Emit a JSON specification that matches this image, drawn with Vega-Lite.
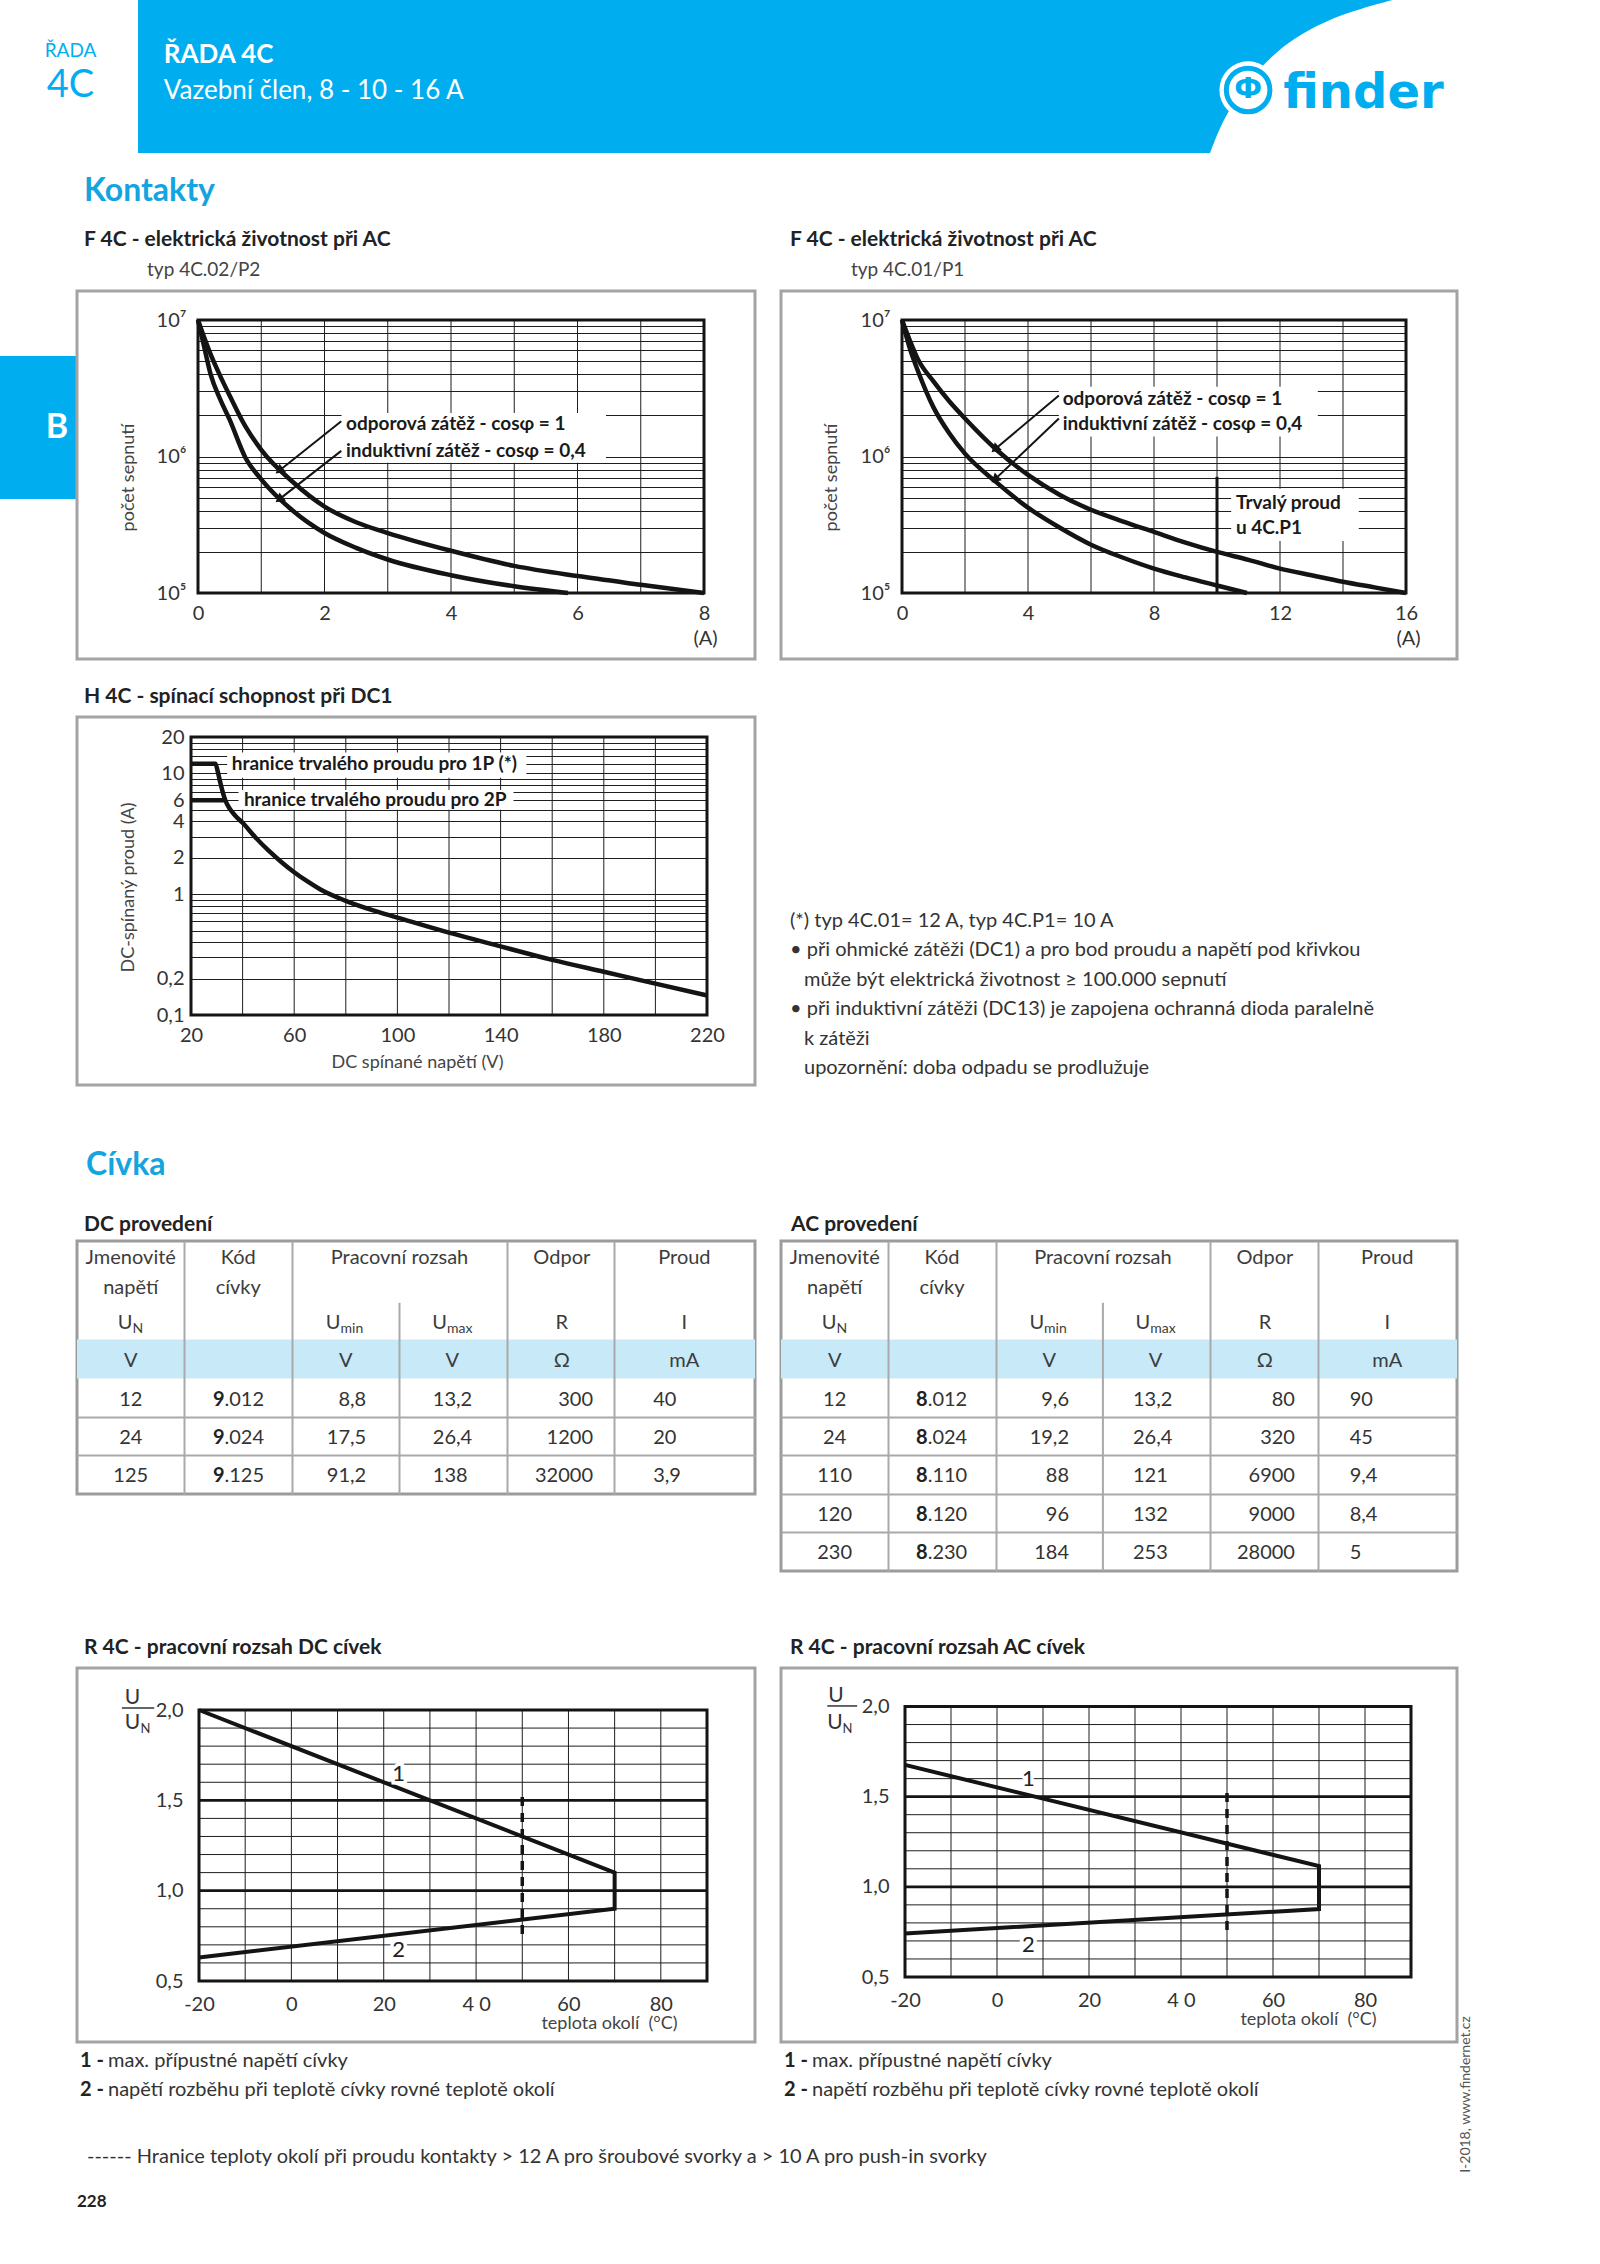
{
"$schema": "https://vega.github.io/schema/vega-lite/v6.json",
"padding": 0,
"background": "white",
"spacing": 0,
"bounds": "flush",
"columns": 5,
"align": "each",
"config": {
  "view": {"stroke": null},
  "font": "Lato",
  "text": {"font": "Lato", "color": "#333"},
  "title": {"font": "Lato", "subtitleFont": "Lato", "anchor": "start", "frame": "group", "color": "#222"},
  "axis": {"labelFont": "Lato", "labelFontSize": 20, "labelColor": "#333", "titleFont": "Lato", "titleFontSize": 18, "titleFontWeight": "normal", "titleColor": "#444", "ticks": false, "domain": false, "gridColor": "#1e1e1e", "gridWidth": 1, "gridOpacity": 1, "labelOverlap": false, "labelFlush": false},
  "concat": {"spacing": 0}
},
"datasets": {
  "headerCurve": [{"u":0.9043,"v":0},{"u":0.8547,"v":0.06},{"u":0.8162,"v":0.118},{"u":0.7722,"v":0.215},{"u":0.7337,"v":0.33},{"u":0.688,"v":0.54},{"u":0.6657,"v":0.70},{"u":0.6494,"v":0.83},{"u":0.6346,"v":1}],
  "c1": [
    {"s":"odporová","a":0,"n":10000000},{"s":"odporová","a":0.1,"n":7400000},{"s":"odporová","a":0.2,"n":5600000},{"s":"odporová","a":0.35,"n":3900000},{"s":"odporová","a":0.5,"n":2800000},{"s":"odporová","a":0.75,"n":1660000},{"s":"odporová","a":1,"n":1120000},{"s":"odporová","a":1.5,"n":650000},{"s":"odporová","a":2,"n":430000},{"s":"odporová","a":2.5,"n":330000},{"s":"odporová","a":3,"n":275000},{"s":"odporová","a":4,"n":204000},{"s":"odporová","a":5,"n":158000},{"s":"odporová","a":6,"n":133000},{"s":"odporová","a":7,"n":115000},{"s":"odporová","a":8,"n":100000},
    {"s":"induktivní","a":0,"n":10000000},{"s":"induktivní","a":0.1,"n":6300000},{"s":"induktivní","a":0.2,"n":4000000},{"s":"induktivní","a":0.35,"n":2630000},{"s":"induktivní","a":0.5,"n":1860000},{"s":"induktivní","a":0.75,"n":980000},{"s":"induktivní","a":1,"n":680000},{"s":"induktivní","a":1.5,"n":400000},{"s":"induktivní","a":2,"n":275000},{"s":"induktivní","a":2.5,"n":214000},{"s":"induktivní","a":3,"n":176000},{"s":"induktivní","a":4,"n":135000},{"s":"induktivní","a":5,"n":112000},{"s":"induktivní","a":5.85,"n":100000}
  ],
  "c1grid": [{"g":1},{"g":2},{"g":3},{"g":4},{"g":5},{"g":6},{"g":7}],
  "c1box": [{"x1":2.27,"x2":6.45,"y1":900000,"y2":2080000}],
  "c1text": [{"x":2.34,"y":1720000,"t":"odporová zátěž - cosφ = 1"},{"x":2.34,"y":1100000,"t":"induktivní zátěž - cosφ = 0,4"}],
  "c1arrow": [{"x1":2.265,"y1":1810000,"x2":1.283,"y2":786000},{"x1":2.265,"y1":1100000,"x2":1.283,"y2":485000}],
  "c2": [
    {"s":"odporová","a":0,"n":10000000},{"s":"odporová","a":0.25,"n":7080000},{"s":"odporová","a":0.5,"n":5190000},{"s":"odporová","a":1,"n":3550000},{"s":"odporová","a":1.5,"n":2540000},{"s":"odporová","a":2,"n":1900000},{"s":"odporová","a":3,"n":1120000},{"s":"odporová","a":4,"n":733000},{"s":"odporová","a":5,"n":525000},{"s":"odporová","a":6,"n":407000},{"s":"odporová","a":7,"n":335000},{"s":"odporová","a":8,"n":280000},{"s":"odporová","a":9,"n":234000},{"s":"odporová","a":10,"n":200000},{"s":"odporová","a":11,"n":175000},{"s":"odporová","a":12,"n":151000},{"s":"odporová","a":13,"n":135000},{"s":"odporová","a":14,"n":121000},{"s":"odporová","a":15,"n":110000},{"s":"odporová","a":16,"n":100000},
    {"s":"induktivní","a":0,"n":10000000},{"s":"induktivní","a":0.25,"n":6170000},{"s":"induktivní","a":0.5,"n":4270000},{"s":"induktivní","a":1,"n":2290000},{"s":"induktivní","a":1.5,"n":1480000},{"s":"induktivní","a":2,"n":1050000},{"s":"induktivní","a":3,"n":646000},{"s":"induktivní","a":4,"n":422000},{"s":"induktivní","a":5,"n":302000},{"s":"induktivní","a":6,"n":226000},{"s":"induktivní","a":7,"n":182000},{"s":"induktivní","a":8,"n":151000},{"s":"induktivní","a":9,"n":130000},{"s":"induktivní","a":10,"n":113500},{"s":"induktivní","a":10.95,"n":100000}
  ],
  "c2grid": [{"g":2},{"g":4},{"g":6},{"g":8},{"g":10},{"g":12},{"g":14}],
  "c2box": [{"x1":4.98,"x2":13.2,"y1":1400000,"y2":3250000},{"x1":10.45,"x2":14.5,"y1":240000,"y2":580000}],
  "c2text": [{"x":5.1,"y":2660000,"t":"odporová zátěž - cosφ = 1"},{"x":5.1,"y":1740000,"t":"induktivní zátěž - cosφ = 0,4"},{"x":10.6,"y":460000,"t":"Trvalý proud"},{"x":10.6,"y":300000,"t":"u 4C.P1"}],
  "c2arrow": [{"x1":4.98,"y1":2800000,"x2":2.95,"y2":1130000},{"x1":4.98,"y1":1900000,"x2":2.95,"y2":680000}],
  "h": [
    {"s":"1P","v":20,"a":12},{"s":"1P","v":29.5,"a":12},{"s":"1P","v":30.3,"a":10.5},{"s":"1P","v":31.3,"a":8.5},{"s":"1P","v":32.3,"a":7.0},{"s":"1P","v":33.3,"a":6.0},{"s":"1P","v":35,"a":5.1},{"s":"1P","v":37,"a":4.5},{"s":"1P","v":40,"a":3.9},{"s":"1P","v":45,"a":2.95},{"s":"1P","v":50,"a":2.3},{"s":"1P","v":55,"a":1.85},{"s":"1P","v":60,"a":1.52},{"s":"1P","v":65,"a":1.28},{"s":"1P","v":70,"a":1.1},{"s":"1P","v":80,"a":0.88},{"s":"1P","v":90,"a":0.74},{"s":"1P","v":100,"a":0.64},{"s":"1P","v":120,"a":0.48},{"s":"1P","v":140,"a":0.37},{"s":"1P","v":160,"a":0.286},{"s":"1P","v":180,"a":0.228},{"s":"1P","v":200,"a":0.182},{"s":"1P","v":220,"a":0.145},
    {"s":"2P","v":20,"a":6},{"s":"2P","v":33.3,"a":6}
  ],
  "hgrid": [{"g":40},{"g":60},{"g":80},{"g":100},{"g":120},{"g":140},{"g":160},{"g":180},{"g":200}],
  "hbox": [{"x1":34,"x2":150,"y1":9.2,"y2":14.9},{"x1":38.4,"x2":145,"y1":5.0,"y2":7.3}],
  "htext": [{"x":35.8,"y":12,"t":"hranice trvalého proudu pro 1P (*)"},{"x":40.5,"y":6,"t":"hranice trvalého proudu pro 2P"}],
  "notes": [
    {"l":0,"k":"first","t":"(*) typ 4C.01= 12 A, typ 4C.P1= 10 A"},
    {"l":1,"k":"bullet","t":"• při ohmické zátěži (DC1) a pro bod proudu a napětí pod křivkou"},
    {"l":2,"k":"cont","t":"může být elektrická životnost ≥ 100.000 sepnutí"},
    {"l":3,"k":"bullet","t":"• při induktivní zátěži (DC13) je zapojena ochranná dioda paralelně"},
    {"l":4,"k":"cont","t":"k zátěži"},
    {"l":5,"k":"cont","t":"upozornění: doba odpadu se prodlužuje"}
  ],
  "thead": [
    {"t":"Jmenovité","c":0.5,"r":-2.677},{"t":"napětí","c":0.5,"r":-1.914},
    {"t":"Kód","c":1.5,"r":-2.677},{"t":"cívky","c":1.5,"r":-1.914},
    {"t":"Pracovní rozsah","c":3.0,"r":-2.677},
    {"t":"Odpor","c":4.51,"r":-2.677},{"t":"R","c":4.51,"r":-1.0},
    {"t":"Proud","c":5.65,"r":-2.677},{"t":"I","c":5.65,"r":-1.0},
    {"t":"V","c":0.5,"r":0},{"t":"V","c":2.5,"r":0},{"t":"V","c":3.49,"r":0},{"t":"Ω","c":4.51,"r":0},{"t":"mA","c":5.65,"r":0}
  ],
  "usub": [{"c":0.517,"s":"N"},{"c":2.452,"s":"min"},{"c":3.442,"s":"max"}],
  "dc": [
    {"i":1,"UN":"12","kb":"9","kr":".012","umin":"8,8","umax":"13,2","R":"300","I":"40"},
    {"i":2,"UN":"24","kb":"9","kr":".024","umin":"17,5","umax":"26,4","R":"1200","I":"20"},
    {"i":3,"UN":"125","kb":"9","kr":".125","umin":"91,2","umax":"138","R":"32000","I":"3,9"}
  ],
  "ac": [
    {"i":1,"UN":"12","kb":"8","kr":".012","umin":"9,6","umax":"13,2","R":"80","I":"90"},
    {"i":2,"UN":"24","kb":"8","kr":".024","umin":"19,2","umax":"26,4","R":"320","I":"45"},
    {"i":3,"UN":"110","kb":"8","kr":".110","umin":"88","umax":"121","R":"6900","I":"9,4"},
    {"i":4,"UN":"120","kb":"8","kr":".120","umin":"96","umax":"132","R":"9000","I":"8,4"},
    {"i":5,"UN":"230","kb":"8","kr":".230","umin":"184","umax":"253","R":"28000","I":"5"}
  ],
  "rgrid": [{"g":-10},{"g":0},{"g":10},{"g":20},{"g":30},{"g":40},{"g":50},{"g":60},{"g":70},{"g":80}],
  "rygrid": [{"g":0.6},{"g":0.7},{"g":0.8},{"g":0.9},{"g":1.1},{"g":1.2},{"g":1.3},{"g":1.4},{"g":1.6},{"g":1.7},{"g":1.8},{"g":1.9}],
  "rdc": [{"t":-20,"u":2.0,"o":0},{"t":70,"u":1.1,"o":1},{"t":70,"u":0.9,"o":2},{"t":-20,"u":0.63,"o":3}],
  "rac": [{"t":-20,"u":1.676,"o":0},{"t":70,"u":1.115,"o":1},{"t":70,"u":0.877,"o":2},{"t":-20,"u":0.741,"o":3}],
  "rdcnum": [{"t":23.2,"u":1.644,"k":"1"},{"t":23.2,"u":0.67,"k":"2"}],
  "racnum": [{"t":6.8,"u":1.60,"k":"1"},{"t":6.8,"u":0.675,"k":"2"}],
  "legend": [{"i":0,"n":"1 -","t":"max. přípustné napětí cívky"},{"i":1,"n":"2 -","t":"napětí rozběhu při teplotě cívky rovné teplotě okolí"}],
  "footer": [{"i":0,"t":"------ Hranice teploty okolí při proudu kontakty > 12 A pro šroubové svorky a > 10 A pro push-in svorky"},{"i":1,"t":"228"}]
},
"concat": [
  {"width": 77, "height": 153, "data": {"values": [{}]}, "layer": [
    {"mark": {"type": "text", "text": "ŘADA", "fontSize": 19, "color": "#00aeef", "align": "center", "baseline": "middle", "dx": 32, "dy": -26}},
    {"mark": {"type": "text", "text": "4C", "fontSize": 38, "color": "#00aeef", "align": "center", "baseline": "middle", "dx": 32, "dy": 9}}
  ]},
  {"width": 678, "height": 153, "data": {"values": [{}]},
   "encoding": {"x": {"datum": 0, "type": "quantitative", "scale": {"domain": [0, 1], "nice": false, "zero": false}, "axis": null}},
   "layer": [
    {"mark": {"type": "rect", "color": "#00aeef"}, "encoding": {"x": {"datum": 0.09}, "x2": {"datum": 1}}},
    {"mark": {"type": "text", "text": "ŘADA 4C", "fontSize": 26, "fontWeight": "bold", "color": "white", "align": "left", "baseline": "middle", "dy": -22}, "encoding": {"x": {"datum": 0.128}}},
    {"mark": {"type": "text", "text": "Vazební člen, 8 - 10 - 16 A", "fontSize": 26, "color": "white", "align": "left", "baseline": "middle", "dy": 14}, "encoding": {"x": {"datum": 0.128}}}
  ]},
  {"width": 26, "height": 153, "view": {"fill": "#00aeef", "stroke": null}, "data": {"values": []}, "mark": "rect"},
  {"width": 676, "height": 153, "layer": [
    {"data": {"name": "headerCurve"}, "mark": {"type": "area", "orient": "horizontal", "color": "#00aeef", "interpolate": "basis"},
     "encoding": {
       "y": {"field": "v", "type": "quantitative", "scale": {"domain": [0, 1], "reverse": true, "nice": false, "zero": false}, "axis": null},
       "x": {"field": "u", "type": "quantitative", "scale": {"domain": [0, 1], "nice": false, "zero": false}, "axis": null},
       "x2": {"datum": 0}}},
    {"data": {"values": [{}]}, "mark": {"type": "point", "shape": "circle", "filled": true, "color": "white", "opacity": 1, "size": 3300}, "encoding": {"x": {"datum": 0.691}, "y": {"datum": 0.588}}},
    {"data": {"values": [{}]}, "mark": {"type": "point", "shape": "circle", "filled": false, "color": "#00aeef", "strokeWidth": 5, "opacity": 1, "size": 1900}, "encoding": {"x": {"datum": 0.691}, "y": {"datum": 0.588}}},
    {"data": {"values": [{}]}, "mark": {"type": "text", "text": "Ф", "font": "DejaVu Sans", "fontSize": 28, "fontWeight": "bold", "color": "#00aeef", "align": "center", "baseline": "middle"}, "encoding": {"x": {"datum": 0.691}, "y": {"datum": 0.588}}},
    {"data": {"values": [{}]}, "mark": {"type": "text", "text": "finder", "font": "DejaVu Sans", "fontSize": 48, "fontWeight": "bold", "color": "#00aeef", "align": "left", "baseline": "alphabetic"}, "encoding": {"x": {"datum": 0.743}, "y": {"datum": 0.706}}}
  ]},
  {"width": 143, "height": 1, "data": {"values": []}, "mark": "rect"},

  {"width": 77, "height": 138, "data": {"values": []}, "mark": "rect"},
  {"width": 678, "height": 138, "data": {"values": []}, "mark": "rect",
   "title": {"text": "Kontakty", "fontSize": 32, "fontWeight": "bold", "color": "#14a4df", "offset": -55, "dx": 7}},
  {"width": 26, "height": 1, "data": {"values": []}, "mark": "rect"},
  {"width": 676, "height": 1, "data": {"values": []}, "mark": "rect"},
  {"width": 143, "height": 1, "data": {"values": []}, "mark": "rect"},

  {"width": 77, "height": 368, "data": {"values": [{}]},
   "encoding": {
     "x": {"datum": 0, "type": "quantitative", "scale": {"domain": [0, 1]}, "axis": null},
     "y": {"datum": 0, "type": "quantitative", "scale": {"domain": [0, 1], "range": [65, 208]}, "axis": null}},
   "layer": [
     {"mark": {"type": "rect", "color": "#00aeef"}, "encoding": {"x2": {"datum": 1}, "y2": {"datum": 1}}},
     {"mark": {"type": "text", "text": "B", "fontSize": 34, "fontWeight": "bold", "color": "white", "align": "center", "baseline": "middle", "dx": 57}, "encoding": {"y": {"datum": 0.5}}}
   ]},
  {"width": 678, "height": 368, "view": {"stroke": "#a3a3a3", "strokeWidth": 3},
   "title": {"text": "F 4C - elektrická životnost při AC", "fontSize": 21, "fontWeight": "bold", "offset": 11, "dx": 7},
   "layer": [
    {"data": {"name": "c1grid"}, "mark": {"type": "rule", "color": "#1e1e1e", "strokeWidth": 1},
     "encoding": {
       "x": {"field": "g", "type": "quantitative", "scale": {"domain": [0, 8], "range": [121, 627], "nice": false, "zero": false},
             "axis": {"values": [0,2,4,6,8], "labelExpr": "'' + datum.value", "grid": false, "labelOverlap": false, "offset": -66, "labelPadding": 10, "title": "(A)", "titleX": 628, "titleY": 45, "titleAlign": "center", "titleBaseline": "middle", "titleFontSize": 20, "titleColor": "#333"}},
       "y": {"datum": 100000, "type": "quantitative", "scale": {"type": "log", "domain": [100000, 10000000], "range": [302, 29], "nice": false},
             "axis": {"values": [100000,200000,300000,400000,500000,600000,700000,800000,900000,1000000,2000000,3000000,4000000,5000000,6000000,7000000,8000000,9000000,10000000], "labelExpr": "datum.value == 100000 ? '10⁵' : datum.value == 1000000 ? '10⁶' : datum.value == 10000000 ? '10⁷' : ''", "labelOverlap": false, "offset": -121, "labelPadding": 12, "grid": true, "title": "počet sepnutí", "titleX": -70, "titleY": 186, "titleAngle": 270, "titleAlign": "center", "titleBaseline": "middle"}},
       "y2": {"datum": 10000000}}},
    {"data": {"name": "c1box"}, "mark": {"type": "rect", "color": "white"},
     "encoding": {"x": {"field": "x1", "type": "quantitative"}, "x2": {"field": "x2"}, "y": {"field": "y1", "type": "quantitative"}, "y2": {"field": "y2"}}},
    {"data": {"name": "c1"}, "mark": {"type": "line", "color": "#141414", "strokeWidth": 4.5, "interpolate": "monotone"},
     "encoding": {"x": {"field": "a", "type": "quantitative"}, "y": {"field": "n", "type": "quantitative"}, "detail": {"field": "s"}}},
    {"data": {"values": [{}]}, "mark": {"type": "rect", "fill": "transparent", "stroke": "#141414", "strokeWidth": 3},
     "encoding": {"x": {"datum": 0}, "x2": {"datum": 8}, "y": {"datum": 100000}, "y2": {"datum": 10000000}}},
    {"data": {"name": "c1arrow"}, "mark": {"type": "rule", "color": "#141414", "strokeWidth": 2},
     "encoding": {"x": {"field": "x1", "type": "quantitative"}, "x2": {"field": "x2"}, "y": {"field": "y1", "type": "quantitative"}, "y2": {"field": "y2"}}},
    {"data": {"name": "c1arrow"}, "mark": {"type": "point", "shape": "triangle-up", "filled": true, "color": "#141414", "opacity": 1, "size": 110, "angle": 232},
     "encoding": {"x": {"field": "x2", "type": "quantitative"}, "y": {"field": "y2", "type": "quantitative"}}},
    {"data": {"name": "c1text"}, "mark": {"type": "text", "align": "left", "baseline": "middle", "fontSize": 19, "fontWeight": "bold", "color": "#1a1a1a"},
     "encoding": {"x": {"field": "x", "type": "quantitative"}, "y": {"field": "y", "type": "quantitative"}, "text": {"field": "t"}}},
    {"data": {"values": [{}]}, "mark": {"type": "text", "text": "typ 4C.02/P2", "align": "left", "baseline": "middle", "fontSize": 19, "color": "#444"},
     "encoding": {"x": {"datum": -0.806}, "y": {"datum": 23050000}}}
   ]},
  {"width": 26, "height": 1, "data": {"values": []}, "mark": "rect"},
  {"width": 676, "height": 368, "view": {"stroke": "#a3a3a3", "strokeWidth": 3},
   "title": {"text": "F 4C - elektrická životnost při AC", "fontSize": 21, "fontWeight": "bold", "offset": 11, "dx": 9},
   "layer": [
    {"data": {"name": "c2grid"}, "mark": {"type": "rule", "color": "#1e1e1e", "strokeWidth": 1},
     "encoding": {
       "x": {"field": "g", "type": "quantitative", "scale": {"domain": [0, 16], "range": [121, 625], "nice": false, "zero": false},
             "axis": {"values": [0,4,8,12,16], "labelExpr": "'' + datum.value", "grid": false, "labelOverlap": false, "offset": -66, "labelPadding": 10, "title": "(A)", "titleX": 627, "titleY": 45, "titleAlign": "center", "titleBaseline": "middle", "titleFontSize": 20, "titleColor": "#333"}},
       "y": {"datum": 100000, "type": "quantitative", "scale": {"type": "log", "domain": [100000, 10000000], "range": [302, 29], "nice": false},
             "axis": {"values": [100000,200000,300000,400000,500000,600000,700000,800000,900000,1000000,2000000,3000000,4000000,5000000,6000000,7000000,8000000,9000000,10000000], "labelExpr": "datum.value == 100000 ? '10⁵' : datum.value == 1000000 ? '10⁶' : datum.value == 10000000 ? '10⁷' : ''", "labelOverlap": false, "offset": -121, "labelPadding": 12, "grid": true, "title": "počet sepnutí", "titleX": -71, "titleY": 186, "titleAngle": 270, "titleAlign": "center", "titleBaseline": "middle"}},
       "y2": {"datum": 10000000}}},
    {"data": {"name": "c2box"}, "mark": {"type": "rect", "color": "white"},
     "encoding": {"x": {"field": "x1", "type": "quantitative"}, "x2": {"field": "x2"}, "y": {"field": "y1", "type": "quantitative"}, "y2": {"field": "y2"}}},
    {"data": {"name": "c2"}, "mark": {"type": "line", "color": "#141414", "strokeWidth": 4.5, "interpolate": "monotone"},
     "encoding": {"x": {"field": "a", "type": "quantitative"}, "y": {"field": "n", "type": "quantitative"}, "detail": {"field": "s"}}},
    {"data": {"values": [{}]}, "mark": {"type": "rule", "color": "#141414", "strokeWidth": 3},
     "encoding": {"x": {"datum": 10}, "y": {"datum": 100000}, "y2": {"datum": 710000}}},
    {"data": {"values": [{}]}, "mark": {"type": "rect", "fill": "transparent", "stroke": "#141414", "strokeWidth": 3},
     "encoding": {"x": {"datum": 0}, "x2": {"datum": 16}, "y": {"datum": 100000}, "y2": {"datum": 10000000}}},
    {"data": {"name": "c2arrow"}, "mark": {"type": "rule", "color": "#141414", "strokeWidth": 2},
     "encoding": {"x": {"field": "x1", "type": "quantitative"}, "x2": {"field": "x2"}, "y": {"field": "y1", "type": "quantitative"}, "y2": {"field": "y2"}}},
    {"data": {"name": "c2arrow"}, "mark": {"type": "point", "shape": "triangle-up", "filled": true, "color": "#141414", "opacity": 1, "size": 110, "angle": 228},
     "encoding": {"x": {"field": "x2", "type": "quantitative"}, "y": {"field": "y2", "type": "quantitative"}}},
    {"data": {"name": "c2text"}, "mark": {"type": "text", "align": "left", "baseline": "middle", "fontSize": 19, "fontWeight": "bold", "color": "#1a1a1a"},
     "encoding": {"x": {"field": "x", "type": "quantitative"}, "y": {"field": "y", "type": "quantitative"}, "text": {"field": "t"}}},
    {"data": {"values": [{}]}, "mark": {"type": "text", "text": "typ 4C.01/P1", "align": "left", "baseline": "middle", "fontSize": 19, "color": "#444"},
     "encoding": {"x": {"datum": -1.62}, "y": {"datum": 23050000}}}
   ]},
  {"width": 143, "height": 1, "data": {"values": []}, "mark": "rect"},

  {"width": 77, "height": 58, "data": {"values": []}, "mark": "rect"},
  {"width": 678, "height": 1, "data": {"values": []}, "mark": "rect"},
  {"width": 26, "height": 1, "data": {"values": []}, "mark": "rect"},
  {"width": 676, "height": 1, "data": {"values": []}, "mark": "rect"},
  {"width": 143, "height": 1, "data": {"values": []}, "mark": "rect"},

  {"width": 77, "height": 1, "data": {"values": []}, "mark": "rect"},
  {"width": 678, "height": 368, "view": {"stroke": "#a3a3a3", "strokeWidth": 3},
   "title": {"text": "H 4C - spínací schopnost při DC1", "fontSize": 21, "fontWeight": "bold", "offset": 10, "dx": 7},
   "layer": [
    {"data": {"name": "hgrid"}, "mark": {"type": "rule", "color": "#1e1e1e", "strokeWidth": 1},
     "encoding": {
       "x": {"field": "g", "type": "quantitative", "scale": {"domain": [20, 220], "range": [114, 630], "nice": false, "zero": false},
             "axis": {"values": [20,60,100,140,180,220], "labelExpr": "'' + datum.value", "grid": false, "labelOverlap": false, "offset": -70, "labelPadding": 10, "title": "DC spínané napětí (V)", "titleX": 340, "titleY": 47, "titleAlign": "center", "titleBaseline": "middle"}},
       "y": {"datum": 0.1, "type": "quantitative", "scale": {"type": "log", "domain": [0.1, 20], "range": [298, 20], "nice": false},
             "axis": {"values": [0.1,0.2,0.3,0.4,0.5,0.6,0.7,0.8,0.9,1,2,3,4,5,6,7,8,9,10,12,14,16,18,20], "labelExpr": "indexof([0.1,0.2,1,2,4,6,10,20], datum.value) >= 0 ? replace('' + datum.value, '.', ',') : ''", "labelOverlap": false, "offset": -114, "labelPadding": 7, "grid": true, "title": "DC-spínaný proud (A)", "titleX": -63, "titleY": 170, "titleAngle": 270, "titleAlign": "center", "titleBaseline": "middle"}},
       "y2": {"datum": 20}}},
    {"data": {"name": "hbox"}, "mark": {"type": "rect", "color": "white"},
     "encoding": {"x": {"field": "x1", "type": "quantitative"}, "x2": {"field": "x2"}, "y": {"field": "y1", "type": "quantitative"}, "y2": {"field": "y2"}}},
    {"data": {"name": "h"}, "mark": {"type": "line", "color": "#141414", "strokeWidth": 4.5, "interpolate": "monotone"},
     "encoding": {"x": {"field": "v", "type": "quantitative"}, "y": {"field": "a", "type": "quantitative"}, "detail": {"field": "s"}}},
    {"data": {"values": [{}]}, "mark": {"type": "rect", "fill": "transparent", "stroke": "#141414", "strokeWidth": 3},
     "encoding": {"x": {"datum": 20}, "x2": {"datum": 220}, "y": {"datum": 0.1}, "y2": {"datum": 20}}},
    {"data": {"name": "htext"}, "mark": {"type": "text", "align": "left", "baseline": "middle", "fontSize": 19, "fontWeight": "bold", "color": "#1a1a1a"},
     "encoding": {"x": {"field": "x", "type": "quantitative"}, "y": {"field": "y", "type": "quantitative"}, "text": {"field": "t"}}}
   ]},
  {"width": 26, "height": 1, "data": {"values": []}, "mark": "rect"},
  {"width": 676, "height": 368, "data": {"name": "notes"},
   "encoding": {
     "x": {"datum": 0, "type": "quantitative", "scale": {"domain": [0, 1]}, "axis": null},
     "y": {"field": "l", "type": "quantitative", "scale": {"domain": [0, 5], "range": [204, 351]}, "axis": null},
     "text": {"field": "t"}},
   "layer": [
     {"transform": [{"filter": "datum.k != 'cont'"}], "mark": {"type": "text", "align": "left", "baseline": "middle", "fontSize": 20, "color": "#333", "dx": 9}},
     {"transform": [{"filter": "datum.k == 'cont'"}], "mark": {"type": "text", "align": "left", "baseline": "middle", "fontSize": 20, "color": "#333", "dx": 23}}
   ]},
  {"width": 143, "height": 1, "data": {"values": []}, "mark": "rect"},

  {"width": 77, "height": 156, "data": {"values": []}, "mark": "rect"},
  {"width": 678, "height": 156, "data": {"values": []}, "mark": "rect",
   "title": {"text": "Cívka", "fontSize": 32, "fontWeight": "bold", "color": "#14a4df", "offset": -97, "dx": 9}},
  {"width": 26, "height": 1, "data": {"values": []}, "mark": "rect"},
  {"width": 676, "height": 1, "data": {"values": []}, "mark": "rect"},
  {"width": 143, "height": 1, "data": {"values": []}, "mark": "rect"},

  {"width": 77, "height": 1, "data": {"values": []}, "mark": "rect"},
  {"width": 678, "height": 253, "view": {"stroke": "#9c9c9c", "strokeWidth": 3},
   "title": {"text": "DC provedení", "fontSize": 21, "fontWeight": "bold", "offset": 6, "dx": 7},
   "layer": [
    {"data": {"values": [{}]}, "mark": {"type": "rect", "color": "#c7e9f8"},
     "encoding": {
       "x": {"datum": 0, "type": "quantitative", "scale": {"domain": [0, 6.307], "nice": false, "zero": false}, "axis": {"values": [1,2,4,5], "grid": true, "labels": false, "title": null, "gridColor": "#a9a9a9", "gridWidth": 2, "zindex": 1}},
       "x2": {"datum": 6.307},
       "y": {"datum": -0.565, "type": "quantitative", "scale": {"domain": [-3.13, 3.46], "range": [0, 253], "nice": false, "zero": false}, "axis": {"values": [1.45, 2.45], "grid": true, "labels": false, "title": null, "gridColor": "#a9a9a9", "gridWidth": 2, "zindex": 1}},
       "y2": {"datum": 0.45}}},
    {"data": {"values": [{}]}, "mark": {"type": "rule", "color": "#a9a9a9", "strokeWidth": 2}, "encoding": {"x": {"datum": 3}, "y": {"datum": -1.52}, "y2": {"datum": 3.46}}},
    {"data": {"name": "thead"}, "mark": {"type": "text", "fontSize": 20, "color": "#3c3c3c", "align": "center", "baseline": "middle"}, "encoding": {"x": {"field": "c", "type": "quantitative"}, "y": {"field": "r", "type": "quantitative"}, "text": {"field": "t"}}},
    {"data": {"name": "usub"}, "mark": {"type": "text", "text": "U", "fontSize": 20, "color": "#3c3c3c", "align": "right", "baseline": "middle"}, "encoding": {"x": {"field": "c", "type": "quantitative"}, "y": {"datum": -1}}},
    {"data": {"name": "usub"}, "mark": {"type": "text", "fontSize": 14, "color": "#3c3c3c", "align": "left", "baseline": "middle", "dy": 6}, "encoding": {"x": {"field": "c", "type": "quantitative"}, "y": {"datum": -1}, "text": {"field": "s"}}},
    {"data": {"name": "dc"}, "mark": {"type": "text", "fontSize": 20, "color": "#333", "align": "center", "baseline": "middle"}, "encoding": {"x": {"datum": 0.5}, "y": {"field": "i", "type": "quantitative"}, "text": {"field": "UN"}}},
    {"data": {"name": "dc"}, "mark": {"type": "text", "fontSize": 20, "color": "#222", "fontWeight": "bold", "align": "right", "baseline": "middle"}, "encoding": {"x": {"datum": 1.372}, "y": {"field": "i", "type": "quantitative"}, "text": {"field": "kb"}}},
    {"data": {"name": "dc"}, "mark": {"type": "text", "fontSize": 20, "color": "#333", "align": "left", "baseline": "middle"}, "encoding": {"x": {"datum": 1.372}, "y": {"field": "i", "type": "quantitative"}, "text": {"field": "kr"}}},
    {"data": {"name": "dc"}, "mark": {"type": "text", "fontSize": 20, "color": "#333", "align": "right", "baseline": "middle"}, "encoding": {"x": {"datum": 2.69}, "y": {"field": "i", "type": "quantitative"}, "text": {"field": "umin"}}},
    {"data": {"name": "dc"}, "mark": {"type": "text", "fontSize": 20, "color": "#333", "align": "left", "baseline": "middle"}, "encoding": {"x": {"datum": 3.31}, "y": {"field": "i", "type": "quantitative"}, "text": {"field": "umax"}}},
    {"data": {"name": "dc"}, "mark": {"type": "text", "fontSize": 20, "color": "#333", "align": "right", "baseline": "middle"}, "encoding": {"x": {"datum": 4.8}, "y": {"field": "i", "type": "quantitative"}, "text": {"field": "R"}}},
    {"data": {"name": "dc"}, "mark": {"type": "text", "fontSize": 20, "color": "#333", "align": "left", "baseline": "middle"}, "encoding": {"x": {"datum": 5.36}, "y": {"field": "i", "type": "quantitative"}, "text": {"field": "I"}}}
   ]},
  {"width": 26, "height": 1, "data": {"values": []}, "mark": "rect"},
  {"width": 676, "height": 330, "view": {"stroke": "#9c9c9c", "strokeWidth": 3},
   "title": {"text": "AC provedení", "fontSize": 21, "fontWeight": "bold", "offset": 6, "dx": 10},
   "layer": [
    {"data": {"values": [{}]}, "mark": {"type": "rect", "color": "#c7e9f8"},
     "encoding": {
       "x": {"datum": 0, "type": "quantitative", "scale": {"domain": [0, 6.3], "nice": false, "zero": false}, "axis": {"values": [1,2,4,5], "grid": true, "labels": false, "title": null, "gridColor": "#a9a9a9", "gridWidth": 2, "zindex": 1}},
       "x2": {"datum": 6.3},
       "y": {"datum": -0.565, "type": "quantitative", "scale": {"domain": [-3.13, 5.46], "range": [0, 330], "nice": false, "zero": false}, "axis": {"values": [1.45, 2.45, 3.45, 4.45], "grid": true, "labels": false, "title": null, "gridColor": "#a9a9a9", "gridWidth": 2, "zindex": 1}},
       "y2": {"datum": 0.45}}},
    {"data": {"values": [{}]}, "mark": {"type": "rule", "color": "#a9a9a9", "strokeWidth": 2}, "encoding": {"x": {"datum": 3}, "y": {"datum": -1.52}, "y2": {"datum": 5.46}}},
    {"data": {"name": "thead"}, "mark": {"type": "text", "fontSize": 20, "color": "#3c3c3c", "align": "center", "baseline": "middle"}, "encoding": {"x": {"field": "c", "type": "quantitative"}, "y": {"field": "r", "type": "quantitative"}, "text": {"field": "t"}}},
    {"data": {"name": "usub"}, "mark": {"type": "text", "text": "U", "fontSize": 20, "color": "#3c3c3c", "align": "right", "baseline": "middle"}, "encoding": {"x": {"field": "c", "type": "quantitative"}, "y": {"datum": -1}}},
    {"data": {"name": "usub"}, "mark": {"type": "text", "fontSize": 14, "color": "#3c3c3c", "align": "left", "baseline": "middle", "dy": 6}, "encoding": {"x": {"field": "c", "type": "quantitative"}, "y": {"datum": -1}, "text": {"field": "s"}}},
    {"data": {"name": "ac"}, "mark": {"type": "text", "fontSize": 20, "color": "#333", "align": "center", "baseline": "middle"}, "encoding": {"x": {"datum": 0.5}, "y": {"field": "i", "type": "quantitative"}, "text": {"field": "UN"}}},
    {"data": {"name": "ac"}, "mark": {"type": "text", "fontSize": 20, "color": "#222", "fontWeight": "bold", "align": "right", "baseline": "middle"}, "encoding": {"x": {"datum": 1.367}, "y": {"field": "i", "type": "quantitative"}, "text": {"field": "kb"}}},
    {"data": {"name": "ac"}, "mark": {"type": "text", "fontSize": 20, "color": "#333", "align": "left", "baseline": "middle"}, "encoding": {"x": {"datum": 1.367}, "y": {"field": "i", "type": "quantitative"}, "text": {"field": "kr"}}},
    {"data": {"name": "ac"}, "mark": {"type": "text", "fontSize": 20, "color": "#333", "align": "right", "baseline": "middle"}, "encoding": {"x": {"datum": 2.684}, "y": {"field": "i", "type": "quantitative"}, "text": {"field": "umin"}}},
    {"data": {"name": "ac"}, "mark": {"type": "text", "fontSize": 20, "color": "#333", "align": "left", "baseline": "middle"}, "encoding": {"x": {"datum": 3.28}, "y": {"field": "i", "type": "quantitative"}, "text": {"field": "umax"}}},
    {"data": {"name": "ac"}, "mark": {"type": "text", "fontSize": 20, "color": "#333", "align": "right", "baseline": "middle"}, "encoding": {"x": {"datum": 4.79}, "y": {"field": "i", "type": "quantitative"}, "text": {"field": "R"}}},
    {"data": {"name": "ac"}, "mark": {"type": "text", "fontSize": 20, "color": "#333", "align": "left", "baseline": "middle"}, "encoding": {"x": {"datum": 5.3}, "y": {"field": "i", "type": "quantitative"}, "text": {"field": "I"}}}
   ]},
  {"width": 143, "height": 1, "data": {"values": []}, "mark": "rect"},

  {"width": 77, "height": 97, "data": {"values": []}, "mark": "rect"},
  {"width": 678, "height": 1, "data": {"values": []}, "mark": "rect"},
  {"width": 26, "height": 1, "data": {"values": []}, "mark": "rect"},
  {"width": 676, "height": 1, "data": {"values": []}, "mark": "rect"},
  {"width": 143, "height": 1, "data": {"values": []}, "mark": "rect"},

  {"width": 77, "height": 1, "data": {"values": []}, "mark": "rect"},
  {"width": 678, "height": 374, "view": {"stroke": "#a3a3a3", "strokeWidth": 3},
   "title": {"text": "R 4C - pracovní rozsah DC cívek", "fontSize": 21, "fontWeight": "bold", "offset": 10, "dx": 7},
   "layer": [
    {"data": {"name": "rgrid"}, "mark": {"type": "rule", "color": "#1e1e1e", "strokeWidth": 1},
     "encoding": {
       "x": {"field": "g", "type": "quantitative", "scale": {"domain": [-20, 90], "range": [122, 630], "nice": false, "zero": false},
             "axis": {"values": [-20,0,20,40,60,80], "labelExpr": "datum.value == 40 ? '4 0' : '' + datum.value", "grid": false, "labelOverlap": false, "offset": -61, "labelPadding": 13, "title": "teplota okolí\u00a0\u00a0(°C)", "titleX": 532, "titleY": 42, "titleAlign": "center", "titleBaseline": "middle"}},
       "y": {"datum": 0.5, "type": "quantitative", "scale": {"domain": [0.5, 2], "range": [313, 42], "nice": false, "zero": false},
             "axis": {"values": [0.5, 1, 1.5, 2], "labelExpr": "replace(format(datum.value, '.1f'), '.', ',')", "labelOverlap": false, "offset": -122, "labelPadding": 16, "grid": false, "title": null}},
       "y2": {"datum": 2}}},
    {"data": {"name": "rygrid"}, "mark": {"type": "rule", "color": "#1e1e1e", "strokeWidth": 1},
     "encoding": {"y": {"field": "g", "type": "quantitative"}, "x": {"datum": -20}, "x2": {"datum": 90}}},
    {"data": {"values": [{}]}, "mark": {"type": "rule", "color": "#141414", "strokeWidth": 2.6}, "encoding": {"x": {"datum": -20}, "x2": {"datum": 90}, "y": {"datum": 1}}},
    {"data": {"values": [{}]}, "mark": {"type": "rule", "color": "#141414", "strokeWidth": 2.6}, "encoding": {"x": {"datum": -20}, "x2": {"datum": 90}, "y": {"datum": 1.5}}},
    {"data": {"name": "rdc"}, "mark": {"type": "line", "color": "#141414", "strokeWidth": 4, "strokeJoin": "miter"},
     "encoding": {"x": {"field": "t", "type": "quantitative"}, "y": {"field": "u", "type": "quantitative"}, "order": {"field": "o"}}},
    {"data": {"values": [{}]}, "mark": {"type": "rule", "color": "#141414", "strokeWidth": 3.5, "strokeDash": [9, 7]}, "encoding": {"x": {"datum": 50}, "y": {"datum": 0.76}, "y2": {"datum": 1.55}}},
    {"data": {"values": [{}]}, "mark": {"type": "rect", "fill": "transparent", "stroke": "#141414", "strokeWidth": 3},
     "encoding": {"x": {"datum": -20}, "x2": {"datum": 90}, "y": {"datum": 0.5}, "y2": {"datum": 2}}},
    {"data": {"name": "rdcnum"}, "mark": {"type": "text", "fontSize": 22, "color": "white", "stroke": "white", "strokeWidth": 7, "align": "center", "baseline": "middle"}, "encoding": {"x": {"field": "t", "type": "quantitative"}, "y": {"field": "u", "type": "quantitative"}, "text": {"field": "k"}}},
    {"data": {"name": "rdcnum"}, "mark": {"type": "text", "fontSize": 22, "color": "#222", "align": "center", "baseline": "middle"}, "encoding": {"x": {"field": "t", "type": "quantitative"}, "y": {"field": "u", "type": "quantitative"}, "text": {"field": "k"}}},
    {"data": {"values": [{}]}, "mark": {"type": "text", "text": "U", "fontSize": 21, "color": "#333", "align": "center", "baseline": "middle"}, "encoding": {"x": {"datum": -34.4}, "y": {"datum": 2.066}}},
    {"data": {"values": [{}]}, "mark": {"type": "rule", "color": "#333", "strokeWidth": 1.5}, "encoding": {"x": {"datum": -36.7}, "x2": {"datum": -29.7}, "y": {"datum": 2.011}}},
    {"data": {"values": [{}]}, "mark": {"type": "text", "text": "U", "fontSize": 21, "color": "#333", "align": "center", "baseline": "middle"}, "encoding": {"x": {"datum": -34.4}, "y": {"datum": 1.928}}},
    {"data": {"values": [{}]}, "mark": {"type": "text", "text": "N", "fontSize": 13, "color": "#333", "align": "center", "baseline": "middle"}, "encoding": {"x": {"datum": -31.6}, "y": {"datum": 1.895}}}
   ]},
  {"width": 26, "height": 1, "data": {"values": []}, "mark": "rect"},
  {"width": 676, "height": 374, "view": {"stroke": "#a3a3a3", "strokeWidth": 3},
   "title": {"text": "R 4C - pracovní rozsah AC cívek", "fontSize": 21, "fontWeight": "bold", "offset": 10, "dx": 9},
   "layer": [
    {"data": {"name": "rgrid"}, "mark": {"type": "rule", "color": "#1e1e1e", "strokeWidth": 1},
     "encoding": {
       "x": {"field": "g", "type": "quantitative", "scale": {"domain": [-20, 90], "range": [124, 630], "nice": false, "zero": false},
             "axis": {"values": [-20,0,20,40,60,80], "labelExpr": "datum.value == 40 ? '4 0' : '' + datum.value", "grid": false, "labelOverlap": false, "offset": -65, "labelPadding": 13, "title": "teplota okolí\u00a0\u00a0(°C)", "titleX": 527, "titleY": 42, "titleAlign": "center", "titleBaseline": "middle"}},
       "y": {"datum": 0.5, "type": "quantitative", "scale": {"domain": [0.5, 2], "range": [309, 38.5], "nice": false, "zero": false},
             "axis": {"values": [0.5, 1, 1.5, 2], "labelExpr": "replace(format(datum.value, '.1f'), '.', ',')", "labelOverlap": false, "offset": -124, "labelPadding": 16, "grid": false, "title": null}},
       "y2": {"datum": 2}}},
    {"data": {"name": "rygrid"}, "mark": {"type": "rule", "color": "#1e1e1e", "strokeWidth": 1},
     "encoding": {"y": {"field": "g", "type": "quantitative"}, "x": {"datum": -20}, "x2": {"datum": 90}}},
    {"data": {"values": [{}]}, "mark": {"type": "rule", "color": "#141414", "strokeWidth": 2.6}, "encoding": {"x": {"datum": -20}, "x2": {"datum": 90}, "y": {"datum": 1}}},
    {"data": {"values": [{}]}, "mark": {"type": "rule", "color": "#141414", "strokeWidth": 2.6}, "encoding": {"x": {"datum": -20}, "x2": {"datum": 90}, "y": {"datum": 1.5}}},
    {"data": {"name": "rac"}, "mark": {"type": "line", "color": "#141414", "strokeWidth": 4, "strokeJoin": "miter"},
     "encoding": {"x": {"field": "t", "type": "quantitative"}, "y": {"field": "u", "type": "quantitative"}, "order": {"field": "o"}}},
    {"data": {"values": [{}]}, "mark": {"type": "rule", "color": "#141414", "strokeWidth": 3.5, "strokeDash": [9, 7]}, "encoding": {"x": {"datum": 50}, "y": {"datum": 0.76}, "y2": {"datum": 1.54}}},
    {"data": {"values": [{}]}, "mark": {"type": "rect", "fill": "transparent", "stroke": "#141414", "strokeWidth": 3},
     "encoding": {"x": {"datum": -20}, "x2": {"datum": 90}, "y": {"datum": 0.5}, "y2": {"datum": 2}}},
    {"data": {"name": "racnum"}, "mark": {"type": "text", "fontSize": 22, "color": "white", "stroke": "white", "strokeWidth": 7, "align": "center", "baseline": "middle"}, "encoding": {"x": {"field": "t", "type": "quantitative"}, "y": {"field": "u", "type": "quantitative"}, "text": {"field": "k"}}},
    {"data": {"name": "racnum"}, "mark": {"type": "text", "fontSize": 22, "color": "#222", "align": "center", "baseline": "middle"}, "encoding": {"x": {"field": "t", "type": "quantitative"}, "y": {"field": "u", "type": "quantitative"}, "text": {"field": "k"}}},
    {"data": {"values": [{}]}, "mark": {"type": "text", "text": "U", "fontSize": 21, "color": "#333", "align": "center", "baseline": "middle"}, "encoding": {"x": {"datum": -35.0}, "y": {"datum": 2.058}}},
    {"data": {"values": [{}]}, "mark": {"type": "rule", "color": "#333", "strokeWidth": 1.5}, "encoding": {"x": {"datum": -36.9}, "x2": {"datum": -30.4}, "y": {"datum": 2.003}}},
    {"data": {"values": [{}]}, "mark": {"type": "text", "text": "U", "fontSize": 21, "color": "#333", "align": "center", "baseline": "middle"}, "encoding": {"x": {"datum": -35.2}, "y": {"datum": 1.909}}},
    {"data": {"values": [{}]}, "mark": {"type": "text", "text": "N", "fontSize": 13, "color": "#333", "align": "center", "baseline": "middle"}, "encoding": {"x": {"datum": -32.5}, "y": {"datum": 1.875}}}
   ]},
  {"width": 143, "height": 1, "data": {"values": []}, "mark": "rect"},

  {"width": 77, "height": 1, "data": {"values": []}, "mark": "rect"},
  {"width": 678, "height": 105, "data": {"name": "legend"},
   "encoding": {"x": {"datum": 0, "type": "quantitative", "scale": {"domain": [0, 1]}, "axis": null}, "y": {"field": "i", "type": "quantitative", "scale": {"domain": [0, 1], "range": [19, 48]}, "axis": null}},
   "layer": [
     {"mark": {"type": "text", "align": "left", "baseline": "middle", "fontSize": 20, "fontWeight": "bold", "color": "#222", "dx": 3}, "encoding": {"text": {"field": "n"}}},
     {"mark": {"type": "text", "align": "left", "baseline": "middle", "fontSize": 20, "color": "#333", "dx": 31}, "encoding": {"text": {"field": "t"}}}
   ]},
  {"width": 26, "height": 1, "data": {"values": []}, "mark": "rect"},
  {"width": 676, "height": 105, "data": {"name": "legend"},
   "encoding": {"x": {"datum": 0, "type": "quantitative", "scale": {"domain": [0, 1]}, "axis": null}, "y": {"field": "i", "type": "quantitative", "scale": {"domain": [0, 1], "range": [19, 48]}, "axis": null}},
   "layer": [
     {"mark": {"type": "text", "align": "left", "baseline": "middle", "fontSize": 20, "fontWeight": "bold", "color": "#222", "dx": 3}, "encoding": {"text": {"field": "n"}}},
     {"mark": {"type": "text", "align": "left", "baseline": "middle", "fontSize": 20, "color": "#333", "dx": 31}, "encoding": {"text": {"field": "t"}}}
   ]},
  {"width": 143, "height": 105, "data": {"values": [{}]},
   "mark": {"type": "text", "text": "I-2018, www.findernet.cz", "angle": 270, "fontSize": 14, "color": "#555", "align": "center", "baseline": "middle"},
   "encoding": {"x": {"datum": 0.065, "type": "quantitative", "scale": {"domain": [0, 1]}, "axis": null}}},

  {"width": 77, "height": 105, "data": {"values": []}, "mark": "rect"},
  {"width": 678, "height": 105, "data": {"name": "footer"},
   "encoding": {"x": {"datum": 0, "type": "quantitative", "scale": {"domain": [0, 1]}, "axis": null}, "y": {"field": "i", "type": "quantitative", "scale": {"domain": [0, 1], "range": [10, 55]}, "axis": null}, "text": {"field": "t"}},
   "layer": [
     {"transform": [{"filter": "datum.i == 0"}], "mark": {"type": "text", "align": "left", "baseline": "middle", "fontSize": 20, "color": "#333", "dx": 10}},
     {"transform": [{"filter": "datum.i == 1"}], "mark": {"type": "text", "align": "left", "baseline": "middle", "fontSize": 17, "fontWeight": "bold", "color": "#222", "dx": 0}}
   ]},
  {"width": 26, "height": 1, "data": {"values": []}, "mark": "rect"},
  {"width": 676, "height": 1, "data": {"values": []}, "mark": "rect"},
  {"width": 143, "height": 1, "data": {"values": []}, "mark": "rect"}
]
}
